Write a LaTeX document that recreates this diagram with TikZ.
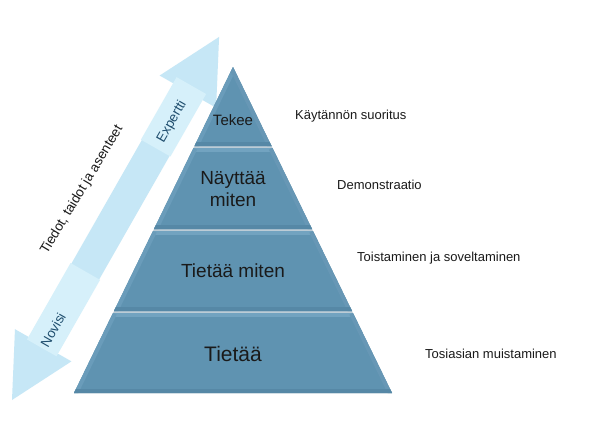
\documentclass[tikz,border=0pt]{standalone}
\usepackage{fontspec}
\setmainfont{Liberation Sans}
\definecolor{pyr}{HTML}{5F93B1}
\definecolor{gapc}{HTML}{BCCCD6}
\definecolor{arr}{HTML}{C6E7F6}
\definecolor{arrbox}{HTML}{D6F0FA}
\definecolor{txt}{HTML}{1A1A1A}
\definecolor{arrtxt}{HTML}{1F4E6E}
\definecolor{bevT}{HTML}{72A3C0}
\definecolor{bevL}{HTML}{6A9CBA}
\definecolor{bevR}{HTML}{6797B5}
\definecolor{bevB}{HTML}{5688A6}
\begin{document}
\begin{tikzpicture}[x=1pt,y=-1pt,
  lbl/.style={font=\fontsize{13}{15}\selectfont, text=txt, anchor=west, inner sep=0},
  plbl/.style={text=txt, inner sep=0, align=center},
  atxt/.style={text=arrtxt, font=\fontsize{13.5}{15}\selectfont, inner sep=0},
  bev/.style={line width=8pt}]
\useasboundingbox[fill=white] (0,0) rectangle (590,442);

% double arrow
\begin{scope}[shift={(12,400)}, rotate=60.3]
  \fill[arr] (0,0) -- (63,-32.5) -- (63,-16) -- (355,-16) -- (355,-32.5) -- (418,0)
    -- (355,32.5) -- (355,16) -- (63,16) -- (63,32.5) -- cycle;
  \fill[arrbox] (60,-17) rectangle (148,17);
  \fill[arrbox] (290,-17) rectangle (362,17);
\end{scope}
\node[atxt, rotate=60.3] (novisi) at (53,330) {Novisi};
\node[atxt, rotate=60.3] (expertti) at (172,122) {Expertti};
\node[text=txt, inner sep=0, rotate=59, font=\fontsize{13.5}{15}\selectfont] (tiedot) at (82,190) {Tiedot, taidot ja asenteet};

% pyramid gap background
\fill[gapc] (233,67) -- (392,393) -- (74,393) -- cycle;

% band 1
\begin{scope}
  \clip (233,67) -- (271.5,146) -- (194.5,146) -- cycle;
  \fill[pyr] (150,60) rectangle (320,150);
  \draw[bev, bevL] (233,67) -- (194.5,146);
  \draw[bev, bevR] (233,67) -- (271.5,146);
  \draw[bev, bevB] (194.5,146) -- (271.5,146);
\end{scope}
% band 2
\begin{scope}
  \clip (193.5,148) -- (272.5,148) -- (312,229) -- (154,229) -- cycle;
  \fill[pyr] (140,140) rectangle (330,235);
  \draw[bev, bevT] (193.5,148) -- (272.5,148);
  \draw[bev, bevL] (193.5,148) -- (154,229);
  \draw[bev, bevR] (272.5,148) -- (312,229);
  \draw[bev, bevB] (154,229) -- (312,229);
\end{scope}
% band 3
\begin{scope}
  \clip (153,231) -- (313,231) -- (352,311) -- (114,311) -- cycle;
  \fill[pyr] (100,225) rectangle (360,315);
  \draw[bev, bevT] (153,231) -- (313,231);
  \draw[bev, bevL] (153,231) -- (114,311);
  \draw[bev, bevR] (313,231) -- (352,311);
  \draw[bev, bevB] (114,311) -- (352,311);
\end{scope}
% band 4
\begin{scope}
  \clip (113,313) -- (353,313) -- (392,393) -- (74,393) -- cycle;
  \fill[pyr] (60,305) rectangle (400,400);
  \draw[bev, bevT] (113,313) -- (353,313);
  \draw[bev, bevL] (113,313) -- (74,393);
  \draw[bev, bevR] (353,313) -- (392,393);
  \draw[bev, bevB] (74,393) -- (392,393);
\end{scope}

% pyramid labels
\node[plbl, font=\fontsize{15}{17}\selectfont] (tekee) at (233,120) {Tekee};
\node[plbl, font=\fontsize{19}{22}\selectfont] (nayttaa) at (233,189) {Näyttää\\miten};
\node[plbl, font=\fontsize{19}{22}\selectfont] (tietaamiten) at (233,271) {Tietää miten};
\node[plbl, font=\fontsize{21}{24}\selectfont] (tietaa) at (233,354) {Tietää};

% right-hand labels
\node[lbl] (kaytannon) at (295,116) {Käytännön suoritus};
\node[lbl] (demo) at (337,185) {Demonstraatio};
\node[lbl] (toist) at (357,258) {Toistaminen ja soveltaminen};
\node[lbl] (tosi) at (425,354) {Tosiasian muistaminen};
\end{tikzpicture}
\end{document}
